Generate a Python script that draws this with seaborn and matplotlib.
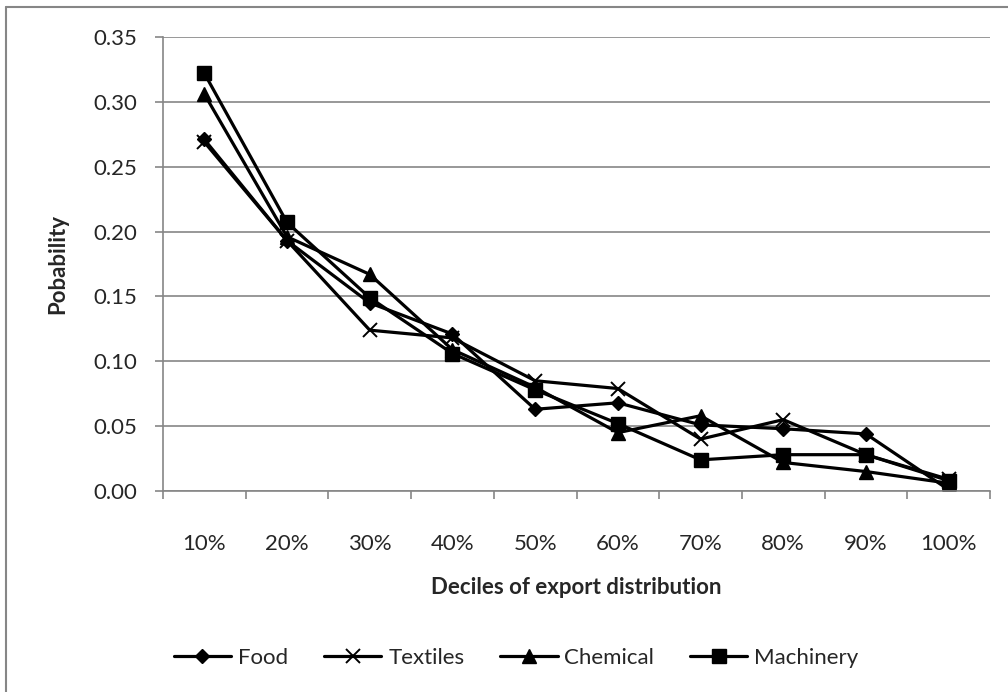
import pandas as pd
import seaborn as sns
import matplotlib.pyplot as plt
from matplotlib.lines import Line2D
from matplotlib.ticker import FixedLocator, FormatStrFormatter

deciles = ["10%", "20%", "30%", "40%", "50%", "60%", "70%", "80%", "90%", "100%"]
food = [0.271, 0.193, 0.145, 0.121, 0.063, 0.068, 0.051, 0.048, 0.044, 0.001]
textiles = [0.269, 0.193, 0.124, 0.118, 0.085, 0.079, 0.040, 0.055, 0.028, 0.009]
chemical = [0.306, 0.196, 0.167, 0.109, 0.080, 0.045, 0.058, 0.022, 0.015, 0.006]
machinery = [0.322, 0.207, 0.149, 0.106, 0.078, 0.052, 0.024, 0.028, 0.028, 0.008]

series = [("Food", food, "D", 7.5), ("Textiles", textiles, "x", 10),
          ("Chemical", chemical, "^", 9.5), ("Machinery", machinery, "s", 9.5)]

sns.set_style("white")
plt.rcParams["font.family"] = ["Lato", "DejaVu Sans"]

grey = "#868686"
fig = plt.figure(figsize=(10.08, 6.92), dpi=100)
ax = fig.add_axes([163 / 1008, 1 - 491 / 692, 827 / 1008, 454 / 692])

for name, vals, mk, ms in series:
    sns.lineplot(x=deciles, y=vals, ax=ax, color="black", lw=2.3, marker=mk,
                 markersize=ms, mec="black", mew=1.4 if mk == "x" else 1,
                 sort=False, label=name, legend=False)

ax.set_xlim(-0.5, 9.5)
ax.set_ylim(0, 0.35)
ax.set_yticks([0, 0.05, 0.10, 0.15, 0.20, 0.25, 0.30, 0.35])
ax.yaxis.set_major_formatter(FormatStrFormatter("%.2f"))
ax.xaxis.set_minor_locator(FixedLocator([i - 0.5 for i in range(11)]))

ax.grid(axis="y", color=grey, lw=1.2)
ax.grid(axis="x", visible=False)
ax.set_axisbelow(True)
for s in ["top", "right"]:
    ax.spines[s].set_visible(False)
for s in ["left", "bottom"]:
    ax.spines[s].set_color(grey)
    ax.spines[s].set_linewidth(1.2)

ax.tick_params(axis="x", which="major", length=0, pad=31, labelsize=16)
ax.tick_params(axis="x", which="minor", length=6, width=1.2, color=grey, direction="out")
ax.tick_params(axis="y", length=5.5, width=1.2, color=grey, direction="out",
               pad=13, labelsize=16, left=True)
ax.tick_params(axis="x", bottom=True, which="both")

ax.set_xlabel("Deciles of export distribution", fontsize=16, fontweight="bold")
ax.set_ylabel("Pobability", fontsize=16, fontweight="bold")
ax.xaxis.set_label_coords(0.5, -96 / 454)
ax.xaxis.label.set_va("center")
ax.yaxis.set_label_coords(-105 / 827, 0.5)
ax.yaxis.label.set_va("center")

handles, labels = ax.get_legend_handles_labels()
fig.legend(handles, labels, loc="center", bbox_to_anchor=(516 / 1008, 1 - 658 / 692),
           ncol=4, frameon=False, fontsize=16, handlelength=2.6,
           handletextpad=0.3, columnspacing=1.6)

# chart area border (left and top edges visible)
fig.add_artist(Line2D([6 / 1008, 6 / 1008], [0, 1 - 7 / 692], color=grey, lw=1.5))
fig.add_artist(Line2D([6 / 1008, 1], [1 - 7 / 692, 1 - 7 / 692], color=grey, lw=1.5))

fig.savefig("out.png", dpi=100)
